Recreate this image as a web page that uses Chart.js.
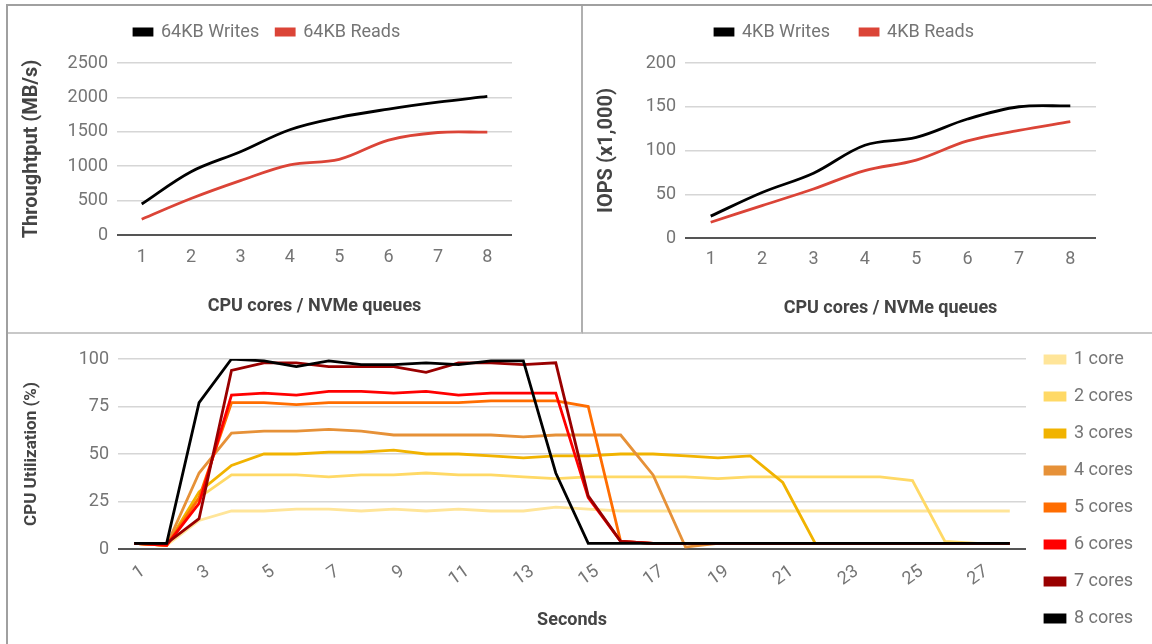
<!DOCTYPE html>
<html>
<head>
<meta charset="utf-8">
<script src="https://cdn.jsdelivr.net/npm/chart.js@4.4.1/dist/chart.umd.min.js"></script>
<style>
  body { margin: 0; background: #fff; }
  #frame { position: absolute; left: 6px; top: 4px; width: 1146px; height: 640px;
           border-left: 2px solid #a0a0a0; border-top: 2px solid #a0a0a0; }
  .panel { position: absolute; }
  #p1 { left: 0; top: 0; width: 573px; height: 326px; border-right: 2px solid #b0b0b0; border-bottom: 2px solid #c8c8c8; }
  #p2 { left: 575px; top: 0; width: 569px; height: 326px; border-bottom: 2px solid #c8c8c8; }
  #p3 { left: 0; top: 328px; width: 1144px; height: 310px; }
  canvas { display: block; }
</style>
</head>
<body>
<div id="frame">
  <div class="panel" id="p1"><canvas id="tput" width="573" height="326"></canvas></div>
  <div class="panel" id="p2"><canvas id="iops" width="569" height="326"></canvas></div>
  <div class="panel" id="p3"><canvas id="cpu" width="1144" height="310"></canvas></div>
</div>
<script>
// queues / cores on the x axis of the two top charts
const queues = ['1', '2', '3', '4', '5', '6', '7', '8'];

// throughput, MB/s
const writes64k = [450, 920, 1210, 1530, 1710, 1830, 1930, 2015];
const reads64k = [230, 530, 790, 1020, 1100, 1380, 1490, 1495];

// IOPS, thousands
const writes4k = [25, 52, 74, 106, 115, 136, 150, 151];
const reads4k = [18, 37, 56, 77, 89, 111, 123, 133];

// CPU utilization per second
const seconds = ['1', '2', '3', '4', '5', '6', '7', '8', '9', '10', '11', '12', '13', '14',
  '15', '16', '17', '18', '19', '20', '21', '22', '23', '24', '25', '26', '27', '28'];
const coreNames = ['1 core', '2 cores', '3 cores', '4 cores', '5 cores', '6 cores', '7 cores', '8 cores'];
const cpu1 = [3, 2, 15, 20, 20, 21, 21, 20, 21, 20, 21, 20, 20, 22, 21, 20, 20, 20, 20, 20, 20, 20, 20, 20, 20, 20, 20, 20];
const cpu2 = [3, 2, 27, 39, 39, 39, 38, 39, 39, 40, 39, 39, 38, 37, 38, 38, 38, 38, 37, 38, 38, 38, 38, 38, 36, 4, 3, 3];
const cpu3 = [3, 2, 30, 44, 50, 50, 51, 51, 52, 50, 50, 49, 48, 49, 49, 50, 50, 49, 48, 49, 35, 3, 3, 3, 3, 3, 3, 3];
const cpu4 = [3, 2, 40, 61, 62, 62, 63, 62, 60, 60, 60, 60, 59, 60, 60, 60, 39, 1, 3, 3, 3, 3, 3, 3, 3, 3, 3, 3];
const cpu5 = [3, 2, 27, 77, 77, 76, 77, 77, 77, 77, 77, 78, 78, 78, 75, 4, 3, 3, 3, 3, 3, 3, 3, 3, 3, 3, 3, 3];
const cpu6 = [3, 2, 24, 81, 82, 81, 83, 83, 82, 83, 81, 82, 82, 82, 27, 4, 3, 3, 3, 3, 3, 3, 3, 3, 3, 3, 3, 3];
const cpu7 = [3, 3, 16, 94, 98, 98, 96, 96, 96, 93, 98, 98, 97, 98, 28, 4, 3, 3, 3, 3, 3, 3, 3, 3, 3, 3, 3, 3];
const cpu8 = [3, 3, 77, 100, 99, 96, 99, 97, 97, 98, 97, 99, 99, 40, 3, 3, 3, 3, 3, 3, 3, 3, 3, 3, 3, 3, 3, 3];
const cpuSeries = [cpu1, cpu2, cpu3, cpu4, cpu5, cpu6, cpu7, cpu8];
const coreColors = ['#ffe599', '#ffd966', '#f1b300', '#e69138', '#ff6d01', '#ff0000', '#990000', '#000000'];

Chart.defaults.font.family = 'Roboto';
Chart.defaults.font.size = 18;
Chart.defaults.color = '#757575';
Chart.defaults.animation = false;

const tickGray = '#757575';
const xTitleFont = { family: 'Roboto', size: 18, weight: 'bold' };

// force the legend box to a given height (top) or width (right);
// a right legend gets some extra room so all items stay in one column
function legendSize(size, extra) {
  return {
    id: 'legendSize',
    beforeInit(chart) {
      const fit = chart.legend.fit;
      chart.legend.fit = function () {
        const horiz = this.isHorizontal();
        if (!horiz) this.maxHeight += extra;
        fit.call(this);
        if (horiz) this.height = size;
        else { this.width = size; this.height -= extra; }
      };
    },
    afterLayout(chart) {
      const lg = chart.legend;
      if (!lg.isHorizontal() && extra) { lg.top -= 3; lg.bottom += 3; }
    }
  };
}

function gridColor(ctx) { return ctx.tick.value === 0 ? '#555' : '#d6d6d6'; }
function gridWidth(ctx) { return ctx.tick.value === 0 ? 2 : 1.5; }

function yAxis(max, step, title, titleSize, width, top) {
  return {
    min: 0, max: max,
    ticks: { stepSize: step, padding: 9, color: tickGray, callback: v => String(v) },
    grid: { color: gridColor, lineWidth: gridWidth, drawTicks: false },
    border: { display: false },
    title: { display: true, text: title, color: '#444',
             font: { family: 'Roboto', size: titleSize, weight: 'bold' },
             padding: { top: 24 - titleSize * 0.6 } },
    afterFit(scale) {
      scale.width = width;
      if (top) scale.paddingTop = top;
    }
  };
}

function xAxis(title, height, pad, titlePad) {
  return {
    offset: true,
    ticks: { padding: pad, color: tickGray },
    grid: { display: false, drawTicks: false },
    border: { display: false },
    title: { display: true, text: title, font: xTitleFont, color: '#444', padding: { bottom: titlePad } },
    afterFit(scale) { scale.height = height; }
  };
}

function lineSet(label, data, color) {
  return { label: label, data: data, borderColor: color, backgroundColor: color,
           borderWidth: 2.8, pointRadius: 0, tension: 0.35 };
}

new Chart(document.getElementById('tput'), {
  type: 'line',
  data: {
    labels: queues,
    datasets: [lineSet('64KB Writes', writes64k, '#000000'), lineSet('64KB Reads', reads64k, '#db4437')]
  },
  options: {
    responsive: false,
    layout: { padding: { top: 0, right: 69, bottom: 0, left: 0 } },
    plugins: {
      legend: { fullSize: false, align: 'start',
                labels: { boxWidth: 18, boxHeight: 6, padding: 17, color: tickGray } },
      tooltip: { enabled: false }
    },
    scales: {
      x: xAxis('CPU cores / NVMe queues', 97, 12, 15),
      y: yAxis(2500, 500, 'Throughtput (MB/s)', 20, 109, 0)
    }
  },
  plugins: [legendSize(57, 0)]
});

new Chart(document.getElementById('iops'), {
  type: 'line',
  data: {
    labels: queues,
    datasets: [lineSet('4KB Writes', writes4k, '#000000'), lineSet('4KB Reads', reads4k, '#db4437')]
  },
  options: {
    responsive: false,
    layout: { padding: { top: -13, right: 56, bottom: 0, left: 0 } },
    plugins: {
      legend: { fullSize: false, align: 'start',
                labels: { boxWidth: 18, boxHeight: 6, padding: 30, color: tickGray } },
      tooltip: { enabled: false }
    },
    scales: {
      x: xAxis('CPU cores / NVMe queues', 94, 11, 13),
      y: yAxis(200, 50, 'IOPS (x1,000)', 20, 102, 0)
    }
  },
  plugins: [legendSize(70, 0)]
});

// later series drawn on top, legend kept in core order
const cpuSets = cpuSeries.map((values, i) => ({
  label: coreNames[i], data: values, borderColor: coreColors[i], backgroundColor: coreColors[i],
  borderWidth: 2.8, pointRadius: 0, tension: 0, order: cpuSeries.length - i
}));

const cpuX = xAxis('Seconds', 95, 12, 13);
cpuX.ticks.autoSkip = false;
cpuX.ticks.minRotation = 35;
cpuX.ticks.maxRotation = 35;
cpuX.ticks.labelOffset = 9;
cpuX.ticks.callback = function (value, index) {
  return index % 2 === 0 ? this.getLabelForValue(value) : '';
};

new Chart(document.getElementById('cpu'), {
  type: 'line',
  data: { labels: seconds, datasets: cpuSets },
  options: {
    responsive: false,
    layout: { padding: 0 },
    plugins: {
      legend: { position: 'right',
                labels: { boxWidth: 20, boxHeight: 7, padding: 19, color: tickGray,
                          sort: (a, b) => a.datasetIndex - b.datasetIndex } },
      tooltip: { enabled: false }
    },
    scales: {
      x: cpuX,
      y: yAxis(100, 25, 'CPU Utilization (%)', 17, 110, 25)
    }
  },
  plugins: [legendSize(126, 12)]
});
</script>
</body>
</html>
